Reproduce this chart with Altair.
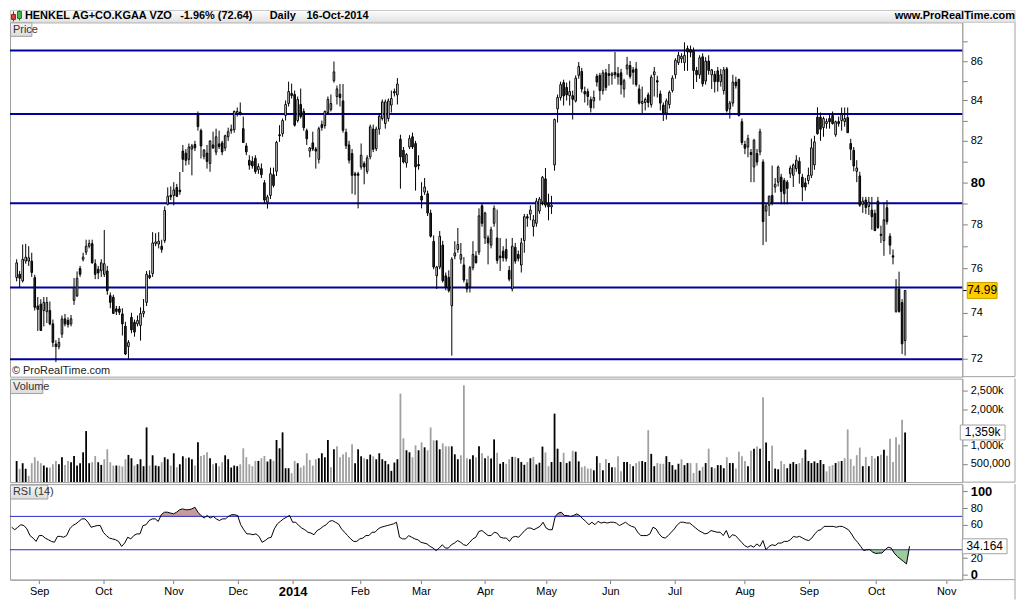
import altair as alt
import pandas as pd

# ---------------- data ----------------
opens = [
    75.57, 75.72, 75.42, 76.32, 76.32, 76.32, 75.57, 74.30, 74.38, 74.10,
    74.05, 74.10, 73.51, 72.63, 72.52, 73.06, 73.73, 73.66, 73.51, 74.55,
    74.75, 75.98, 76.40, 76.73, 77.00, 77.12, 76.20, 75.95, 75.88, 75.72,
    75.87, 74.76, 74.69, 74.17, 74.17, 73.95, 73.41, 72.52, 73.80, 73.58,
    73.51, 73.44, 73.97, 74.46, 75.67, 75.75, 77.12, 77.10, 77.00, 77.26,
    78.95, 79.38, 79.37, 79.75, 79.62, 81.50, 81.40, 81.10, 81.60, 81.82,
    83.30, 82.50, 81.25, 81.40, 80.90, 81.80, 81.45, 81.85, 81.90, 81.65,
    82.20, 82.50, 82.55, 83.35, 83.42, 82.60, 81.75, 81.05, 81.00, 81.15,
    80.60, 80.65, 79.97, 79.05, 79.37, 80.36, 80.52, 82.30, 82.35, 83.25,
    83.85, 84.35, 84.30, 83.00, 83.80, 83.45, 82.50, 81.50, 81.90, 81.60,
    81.10, 82.80, 82.75, 83.40, 83.55, 85.00, 84.20, 84.32, 83.98, 82.42,
    81.80, 81.38, 80.40, 80.40, 80.73, 80.89, 80.52, 81.22, 82.58, 81.62,
    82.58, 83.10, 82.85, 83.10, 83.77, 84.45, 84.28, 82.08, 81.54, 80.92,
    81.70, 82.20, 81.87, 80.85, 79.34, 79.53, 79.45, 78.54, 77.22, 75.65,
    76.05, 77.05, 75.65, 75.58, 74.31, 76.55, 76.85, 76.40, 76.14, 75.32,
    75.17, 76.02, 76.55, 76.73, 78.88, 77.38, 77.38, 77.05, 78.06, 77.38,
    76.55, 76.77, 76.85, 75.90, 75.06, 76.95, 76.62, 76.14, 77.26, 78.37,
    78.49, 77.91, 78.06, 78.63, 79.07, 80.16, 79.00, 78.83, 80.83, 83.58,
    84.15, 84.90, 84.66, 84.24, 84.24, 83.98, 85.27, 85.47, 84.45, 84.45,
    84.04, 83.98, 85.23, 85.27, 84.50, 85.40, 85.35, 85.27, 85.42, 85.35,
    85.40, 84.58, 85.60, 85.77, 85.55, 85.60, 84.58, 83.85, 83.90, 84.28,
    83.80, 85.30, 85.00, 84.33, 83.77, 83.37, 83.80, 84.50, 85.30, 85.92,
    86.12, 85.92, 86.65, 86.60, 86.55, 85.52, 85.30, 86.22, 84.98, 86.00,
    85.30, 85.32, 85.50, 84.95, 84.50, 85.60, 83.58, 83.87, 84.93, 85.06,
    82.94, 81.82, 81.70, 81.43, 80.73, 81.38, 81.46, 80.97, 78.63, 78.91,
    79.37, 79.77, 80.00, 80.24, 80.08, 80.00, 80.41, 80.33, 80.65, 81.00,
    80.24, 79.97, 80.08, 80.33, 80.83, 83.17, 83.17, 82.65, 82.85, 83.10,
    83.25, 82.30, 82.95, 83.00, 82.95, 83.15, 81.87, 81.54, 80.52, 80.30,
    78.95, 79.15, 78.85, 78.68, 78.52, 79.10, 77.55, 77.26, 78.79, 77.46,
    76.56, 74.06, 75.06, 74.45, 72.78,
]
highs = [
    76.40, 75.87, 77.08, 77.11, 77.00, 76.70, 75.70, 74.70, 74.60, 74.70,
    74.70, 74.50, 73.70, 72.80, 72.90, 73.88, 73.95, 73.80, 73.90, 75.55,
    75.85, 76.10, 76.70, 77.30, 77.30, 77.30, 76.40, 76.10, 76.40, 77.75,
    76.10, 74.90, 74.80, 74.30, 74.30, 74.20, 73.60, 72.80, 74.00, 73.70,
    73.88, 74.24, 74.61, 75.87, 75.90, 77.65, 77.60, 77.65, 77.30, 78.85,
    79.75, 79.80, 80.00, 79.92, 80.49, 81.80, 81.60, 81.87, 81.85, 82.00,
    83.45, 82.60, 81.60, 81.80, 82.00, 82.45, 82.60, 82.50, 82.00, 82.30,
    82.65, 82.80, 83.50, 83.65, 83.90, 83.20, 81.90, 81.30, 81.25, 81.30,
    80.90, 80.90, 80.10, 79.40, 80.70, 80.70, 82.00, 82.77, 83.10, 84.00,
    84.95, 84.85, 84.50, 84.20, 84.60, 83.60, 82.60, 81.70, 82.45, 81.70,
    82.70, 83.00, 83.50, 84.20, 84.30, 85.98, 84.75, 84.83, 84.83, 82.60,
    82.00, 81.60, 80.50, 80.50, 81.87, 81.00, 81.30, 82.80, 82.80, 82.70,
    83.35, 84.05, 84.05, 84.10, 84.50, 84.60, 85.13, 82.30, 81.70, 81.40,
    82.28, 82.40, 82.00, 81.30, 80.00, 80.20, 79.60, 78.70, 77.50, 76.10,
    77.70, 77.25, 75.80, 75.90, 76.50, 77.23, 77.84, 77.15, 76.50, 75.50,
    76.10, 77.23, 76.77, 78.76, 78.99, 78.60, 77.50, 77.90, 78.90, 78.70,
    77.38, 77.00, 77.35, 76.10, 77.38, 77.15, 76.80, 77.38, 78.50, 78.50,
    78.90, 78.45, 79.25, 79.30, 80.30, 80.68, 79.45, 79.35, 83.10, 84.30,
    84.95, 85.05, 84.90, 85.00, 84.50, 85.27, 85.95, 85.65, 84.70, 84.60,
    84.20, 84.50, 85.35, 85.40, 85.55, 85.60, 85.85, 85.45, 86.47, 85.70,
    85.60, 85.10, 86.22, 86.00, 85.70, 85.95, 84.80, 84.70, 84.15, 84.40,
    85.30, 85.70, 85.25, 84.50, 83.90, 84.10, 84.50, 85.27, 86.15, 86.47,
    86.40, 86.97, 86.80, 86.80, 86.70, 85.70, 86.30, 86.40, 86.20, 86.30,
    85.60, 85.50, 85.70, 85.60, 85.70, 85.70, 83.98, 85.30, 85.20, 85.10,
    83.10, 82.00, 82.30, 81.60, 82.10, 81.60, 82.60, 81.10, 79.00, 79.35,
    80.80, 80.20, 80.80, 80.40, 80.20, 80.10, 80.80, 80.90, 81.30, 81.20,
    80.40, 80.20, 80.70, 82.11, 82.25, 83.66, 83.40, 83.20, 83.10, 83.30,
    83.45, 83.00, 83.20, 83.65, 83.65, 83.65, 82.10, 81.70, 81.06, 80.50,
    79.30, 79.30, 79.30, 79.30, 78.70, 79.30, 77.95, 79.05, 79.15, 77.60,
    76.85, 75.50, 75.84, 74.60, 74.99,
]
lows = [
    75.40, 75.12, 75.35, 76.20, 76.10, 75.60, 74.10, 73.20, 73.20, 73.40,
    73.55, 73.45, 72.50, 71.85, 72.40, 72.90, 73.40, 73.35, 73.40, 74.35,
    74.70, 75.60, 76.30, 76.60, 76.90, 76.20, 75.50, 75.50, 75.60, 75.60,
    74.80, 74.20, 73.95, 73.90, 73.90, 73.00, 72.15, 72.00, 73.10, 72.95,
    73.40, 72.78, 73.80, 74.30, 75.50, 75.60, 77.00, 76.90, 76.70, 77.15,
    78.90, 79.15, 78.90, 79.30, 79.40, 80.49, 80.80, 80.84, 80.33, 81.50,
    82.50, 81.14, 81.10, 80.65, 80.50, 81.60, 81.30, 81.60, 81.30, 81.50,
    82.00, 82.35, 82.40, 83.20, 83.25, 81.90, 81.30, 80.60, 80.65, 80.40,
    80.40, 80.20, 79.00, 78.75, 79.20, 79.75, 80.30, 81.95, 82.20, 83.00,
    83.70, 84.10, 82.70, 82.90, 83.10, 82.50, 81.80, 81.20, 81.50, 80.65,
    80.90, 82.50, 82.60, 83.30, 83.45, 84.90, 83.80, 83.70, 82.40, 81.60,
    80.90, 79.45, 79.40, 78.76, 80.60, 79.90, 80.40, 81.10, 81.45, 81.50,
    82.30, 83.00, 82.60, 82.95, 83.40, 84.20, 83.80, 79.69, 80.90, 80.70,
    81.60, 81.60, 79.60, 80.60, 78.76, 79.40, 78.40, 77.40, 75.95, 75.06,
    75.95, 75.35, 75.00, 74.90, 72.13, 76.40, 76.70, 76.20, 75.35, 74.90,
    74.90, 75.90, 76.20, 76.60, 77.90, 77.10, 76.17, 76.90, 77.90, 76.20,
    75.87, 76.30, 76.30, 75.40, 74.95, 76.20, 76.30, 75.80, 76.70, 77.90,
    78.20, 77.45, 77.90, 78.50, 78.90, 78.80, 78.20, 78.50, 80.55, 82.90,
    84.00, 83.75, 84.00, 83.75, 83.05, 83.90, 85.10, 84.40, 83.90, 83.75,
    83.40, 83.60, 84.70, 84.00, 84.30, 84.50, 84.75, 84.80, 85.10, 84.80,
    84.30, 84.15, 85.30, 85.10, 84.80, 84.70, 83.80, 83.30, 83.50, 83.65,
    83.65, 84.20, 84.15, 83.50, 82.98, 83.05, 83.60, 84.40, 85.10, 85.80,
    85.90, 85.50, 85.50, 86.20, 84.58, 84.93, 85.10, 84.70, 84.80, 85.30,
    84.58, 84.40, 84.45, 84.70, 84.30, 83.40, 83.10, 83.70, 84.60, 83.20,
    81.80, 81.35, 81.20, 80.00, 80.00, 80.80, 81.30, 77.05, 77.20, 78.40,
    78.90, 79.50, 79.80, 78.95, 78.95, 78.95, 80.20, 79.77, 80.50, 79.93,
    79.10, 79.60, 79.90, 80.20, 80.60, 82.30, 82.00, 82.20, 82.60, 82.60,
    82.80, 82.20, 82.70, 82.50, 82.70, 82.40, 81.06, 80.52, 80.00, 78.83,
    78.55, 78.50, 78.45, 77.76, 77.70, 77.80, 77.15, 76.56, 78.00, 76.62,
    76.17, 74.00, 74.00, 72.20, 72.13,
]
closes = [
    76.24, 75.54, 76.40, 76.50, 76.47, 75.80, 74.24, 74.15, 73.22, 74.46,
    74.46, 73.51, 72.70, 72.52, 72.70, 73.73, 73.51, 73.48, 73.73, 75.12,
    75.54, 75.72, 76.50, 77.00, 77.12, 76.24, 75.72, 75.78, 76.24, 76.20,
    74.98, 74.46, 73.97, 74.06, 74.02, 73.51, 72.20, 72.70, 73.25, 73.15,
    73.66, 73.97, 74.07, 75.72, 75.57, 77.15, 77.20, 77.23, 76.85, 78.66,
    79.33, 79.30, 79.63, 79.33, 79.55, 81.10, 81.05, 81.70, 81.75, 81.66,
    82.70, 81.75, 81.55, 81.00, 82.00, 81.66, 82.20, 81.72, 81.46, 82.25,
    82.45, 82.57, 83.45, 83.45, 83.30, 81.92, 81.46, 80.82, 80.78, 80.51,
    80.75, 80.36, 79.15, 79.30, 80.41, 79.84, 81.92, 82.25, 83.00, 83.80,
    84.45, 84.25, 82.77, 84.05, 83.20, 82.65, 82.10, 81.65, 81.60, 81.50,
    82.60, 82.65, 83.45, 84.05, 83.85, 85.45, 84.58, 84.15, 82.52, 81.76,
    81.06, 80.33, 80.33, 80.33, 81.30, 80.73, 81.17, 82.69, 81.59, 82.58,
    83.22, 83.93, 83.93, 83.98, 84.10, 84.38, 84.83, 81.22, 80.97, 81.33,
    82.11, 81.70, 80.73, 80.78, 79.15, 79.77, 78.54, 77.46, 76.05, 76.05,
    77.46, 75.43, 75.13, 74.98, 76.40, 76.69, 77.08, 76.62, 75.46, 75.06,
    76.02, 76.62, 76.25, 78.41, 78.06, 78.54, 77.15, 77.76, 78.76, 76.35,
    76.47, 76.47, 76.44, 75.50, 77.00, 76.32, 76.44, 77.15, 78.37, 78.30,
    78.68, 78.22, 79.10, 79.20, 80.24, 78.91, 78.83, 78.91, 83.05, 84.15,
    84.80, 84.23, 84.28, 84.45, 84.06, 85.13, 85.72, 84.58, 84.33, 84.20,
    83.64, 84.15, 84.93, 84.50, 85.40, 84.66, 85.27, 85.35, 85.30, 85.20,
    84.80, 85.00, 85.80, 85.22, 85.43, 84.80, 83.87, 83.95, 84.05, 83.90,
    85.18, 85.45, 84.93, 83.87, 83.37, 83.98, 84.41, 85.13, 86.04, 86.30,
    86.25, 86.30, 86.47, 86.45, 85.52, 85.30, 86.17, 84.84, 86.00, 85.52,
    85.55, 84.95, 84.95, 85.30, 85.55, 83.50, 83.87, 84.93, 84.75, 83.25,
    81.92, 81.64, 82.11, 81.33, 82.03, 80.97, 82.45, 78.14, 78.88, 79.34,
    79.03, 79.90, 80.73, 79.56, 79.45, 79.70, 80.68, 80.83, 81.06, 80.41,
    79.77, 79.77, 80.33, 81.66, 81.95, 82.35, 82.57, 83.10, 82.95, 82.94,
    82.85, 82.94, 82.85, 83.30, 83.10, 82.40, 81.59, 80.78, 80.68, 78.91,
    79.10, 78.80, 79.05, 78.37, 77.72, 77.87, 77.50, 78.22, 78.14, 77.05,
    76.50, 75.06, 74.06, 72.64, 74.99,
]
volumes_k = [
    581, 363, 518, 363, 173, 518, 681, 581, 518, 454,
    400, 400, 490, 581, 490, 681, 472, 581, 545, 717,
    454, 518, 817, 1398, 518, 545, 717, 545, 472, 627,
    899, 545, 454, 454, 454, 427, 627, 745, 654, 454,
    490, 627, 436, 1498, 454, 735, 454, 436, 545, 681,
    627, 454, 790, 409, 490, 708, 654, 672, 627, 454,
    1090, 717, 745, 817, 654, 490, 518, 436, 545, 735,
    627, 400, 454, 436, 490, 926, 681, 490, 436, 581,
    581, 654, 717, 563, 627, 581, 1153, 926, 1362, 381,
    381, 245, 581, 518, 400, 454, 790, 608, 454, 627,
    654, 790, 681, 1153, 409, 899, 981, 681, 763, 817,
    681, 1035, 518, 899, 708, 654, 627, 754, 708, 627,
    790, 627, 581, 490, 309, 536, 627, 2424, 1199, 872,
    817, 681, 1008, 872, 1090, 953, 872, 1498, 1144, 1144,
    899, 1062, 981, 981, 981, 763, 627, 735, 2651, 654,
    627, 735, 681, 981, 790, 653, 719, 644, 1170, 804,
    503, 550, 503, 625, 691, 691, 653, 550, 475, 550,
    653, 691, 484, 531, 973, 813, 437, 550, 1875, 916,
    550, 804, 522, 569, 860, 832, 569, 409, 437, 371,
    371, 324, 710, 522, 324, 634, 522, 409, 409, 710,
    296, 550, 550, 493, 437, 522, 569, 578, 550, 1424,
    775, 437, 522, 503, 503, 710, 550, 465, 343, 503,
    625, 465, 522, 522, 249, 522, 315, 418, 522, 916,
    409, 381, 465, 465, 381, 681, 522, 522, 371, 832,
    710, 578, 437, 860, 916, 973, 916, 2326, 1086, 578,
    1001, 371, 352, 578, 493, 381, 503, 550, 493, 522,
    663, 888, 578, 522, 569, 522, 606, 493, 296, 437,
    465, 522, 569, 578, 653, 1443, 634, 446, 738, 945,
    437, 691, 437, 719, 653, 710, 747, 888, 719, 1189,
    550, 1227, 1029, 1706, 1359,
]
rsi14 = [
    57, 54, 57, 60, 59, 55, 47, 44, 40, 47,
    47, 44, 42, 40, 39, 46, 46, 45, 47, 55,
    59, 61, 64, 67, 67, 63, 57, 58, 59, 59,
    51, 47, 44, 43, 42, 40, 34, 38, 45, 43,
    47, 49, 49, 59, 60, 65, 67, 67, 64, 72,
    75, 75, 74, 73, 75, 78, 79, 78, 78, 79,
    81, 75, 71, 68, 71, 68, 70, 67, 65, 67,
    67, 70, 72, 72, 71, 60, 54, 49, 49, 48,
    49, 46, 39, 41, 44, 45, 55, 61, 64, 67,
    69, 71, 63, 63, 59, 56, 54, 51, 50, 48,
    53, 55, 58, 60, 64, 65, 63, 61, 55, 51,
    47, 43, 40, 40, 43, 44, 47, 47, 51, 51,
    55, 57, 58, 59, 60, 61, 63, 45, 43, 43,
    47, 45, 43, 42, 39, 38, 37, 34, 32, 29,
    32, 36, 32, 32, 36, 38, 41, 39, 36, 35,
    39, 43, 45, 52, 53, 50, 47, 47, 51, 50,
    45, 44, 44, 40, 45, 46, 45, 49, 53, 56,
    56, 54, 56, 58, 63, 56, 54, 54, 70, 74,
    75, 71, 71, 70, 71, 73, 71, 67, 64, 60,
    63, 60, 64, 62, 63, 62, 63, 63, 62, 59,
    61, 63, 60, 58, 57, 51, 47, 47, 47, 49,
    57, 55, 49, 45, 44, 47, 51, 55, 60, 63,
    63, 62, 62, 59, 56, 53, 51, 49, 50, 53,
    52, 51, 51, 47, 53, 44, 48, 47, 43, 39,
    35, 33, 35, 33, 37, 34, 41, 30, 34, 36,
    35, 38, 38, 40, 40, 42, 46, 45, 46, 44,
    42, 41, 44, 49, 53, 54, 58, 58, 58, 58,
    57, 58, 58, 56, 54, 49, 43, 39, 34, 29,
    30, 30, 27, 25.5, 26, 26, 30, 33, 32, 26,
    22, 19, 16, 13, 34.164,
]
month_ticks = [9, 30, 53, 74, 92, 114, 134, 155, 175, 196, 217, 240, 261, 283, 306]
month_labels = ["Sep", "Oct", "Nov", "Dec", "2014", "Feb", "Mar", "Apr", "May",
                "Jun", "Jul", "Aug", "Sep", "Oct", "Nov"]
support_levels = [86.55, 83.33, 79.00, 75.12, 71.97]
price_ticks = list(range(72, 88))
volume_ticks = [500000, 1000000, 1500000, 2000000, 2500000]
rsi_ticks = [0, 20, 40, 60, 80, 100]
rsi_bands = [70, 30]
header_texts = ["HENKEL AG+CO.KGAA VZO", "-1.96% (72.64)", "Daily", "16-Oct-2014"]
site_text = "www.ProRealTime.com"
copyright_text = "\u00a9 ProRealTime.com"
panel_titles = ["Price", "Volume", "RSI (14)"]

# ---------------- table ----------------
n = len(closes)
df = pd.DataFrame({
    "i": list(range(n)), "o": opens, "h": highs, "l": lows, "c": closes,
    "v": [v * 1000 for v in volumes_k], "rsi": rsi14,
})
df["vup"] = [True] + [closes[k] >= closes[k - 1] for k in range(1, n)]

W = 957
HP, HV, HR = 356, 104, 96
FONT = "Liberation Sans"
GREY = "#a0a0a0"
one = pd.DataFrame({"k": [0]})

xs = alt.Scale(domain=[-0.55, 311.27], nice=False, zero=False)
ps = alt.Scale(type="log", domain=[71.23, 88.01], nice=False, zero=False)
vs = alt.Scale(domain=[0, 2834000], nice=False, zero=False)
rs = alt.Scale(domain=[-5.85, 108.7], nice=False, zero=False)


def cond(test, a, b):
    return {"condition": {"test": test, "value": a}, "value": b}


# labels hidden behind the last-value boxes in the reference are left blank
price_axis = alt.Axis(
    orient="right", values=price_ticks, title=None, grid=False,
    labelExpr="datum.value % 2 == 0 ? datum.label : ''",
    labelFontSize=cond("datum.value == 80", 13, 11),
    labelFontWeight=cond("datum.value == 80", "bold", "normal"),
    labelOverlap=False, tickSize=5, tickColor="#808080", domainColor=GREY,
    labelPadding=3, labelColor="black")
vol_axis = alt.Axis(
    orient="right", values=volume_ticks, title=None, grid=False,
    labelExpr=("datum.value == 1500000 ? '' : datum.value == 500000 ? '500,000' : "
               "format(datum.value / 1000, ',') + 'k'"),
    labelFontSize=11, labelOverlap=False, tickSize=5, tickColor="#808080",
    domainColor=GREY, labelPadding=3, labelColor="black")
rsi_axis = alt.Axis(
    orient="right", values=rsi_ticks, title=None, grid=False,
    labelExpr="datum.value == 40 ? '' : datum.label",
    labelFontSize=cond("datum.value == 0 || datum.value == 100", 13, 11),
    labelFontWeight=cond("datum.value == 0 || datum.value == 100", "bold", "normal"),
    labelOverlap=False, tickSize=5, tickColor="#808080", domainColor=GREY,
    labelPadding=3, labelColor="black")
labels_js = "[" + ",".join("'%s'" % m for m in month_labels) + "]"
ticks_js = "[" + ",".join(str(t) for t in month_ticks) + "]"
bold_tick = month_ticks[month_labels.index("2014")]
x_axis = alt.Axis(
    values=month_ticks, title=None, grid=False,
    labelExpr=f"{labels_js}[indexof({ticks_js}, datum.value)]",
    labelFontSize=cond(f"datum.value == {bold_tick}", 13, 11),
    labelFontWeight=cond(f"datum.value == {bold_tick}", "bold", "normal"),
    labelFlush=False, labelOverlap=False, tickSize=4, tickColor="#808080",
    domainColor=GREY, labelPadding=2, labelColor="black")

X_none = alt.X("i:Q", scale=xs, axis=None)
X_rsi = alt.X("i:Q", scale=xs, axis=x_axis)


def box(x1, x2, y1, y2, fill, stroke=GREY):
    return alt.Chart(one).mark_rect(fill=fill, stroke=stroke, strokeWidth=1).encode(
        x=alt.value(x1), x2=alt.value(x2), y=alt.value(y1), y2=alt.value(y2))


def label(txt, x, y, size=11, weight="normal", align="left", color="black"):
    return alt.Chart(pd.DataFrame({"t": [txt]})).mark_text(
        align=align, baseline="middle", fontSize=size, fontWeight=weight, color=color
    ).encode(x=alt.value(x), y=alt.value(y), text="t:N")


def vline(x, y1, y2):
    return alt.Chart(one).mark_rule(color=GREY, strokeWidth=1).encode(
        x=alt.value(x), y=alt.value(y1), y2=alt.value(y2))


def hline(y, x1, x2):
    return alt.Chart(one).mark_rule(color=GREY, strokeWidth=1).encode(
        y=alt.value(y), x=alt.value(x1), x2=alt.value(x2))


tab_grad = alt.LinearGradient(gradient="linear", x1=0, x2=0, y1=0, y2=1, stops=[
    alt.GradientStop(offset=0, color="#f4f4f4"), alt.GradientStop(offset=1, color="#dcdcdc")])
head_grad = alt.LinearGradient(gradient="linear", x1=0, x2=0, y1=0, y2=1, stops=[
    alt.GradientStop(offset=0, color="#fdfdfd"), alt.GradientStop(offset=1, color="#e2e2e2")])

base = alt.Chart(df)

# ---------------- price panel ----------------
header = box(0.5, 1010, -12, 0, head_grad, stroke="#c8c8c8")
icon = alt.layer(
    alt.Chart(one).mark_rule(color="#802020").encode(x=alt.value(3.5), y=alt.value(-11), y2=alt.value(-1)),
    box(1.5, 5.5, -8, -3, "#e04040", "#902020"),
    alt.Chart(one).mark_rule(color="#206020").encode(x=alt.value(9.5), y=alt.value(-12), y2=alt.value(-2)),
    box(7.5, 11.5, -11, -4, "#40c040", "#207020"),
)
head_txt = alt.layer(
    label(header_texts[0], 15, -6, weight="bold"),
    label(header_texts[1], 171, -6, weight="bold"),
    label(header_texts[2], 261, -6, weight="bold"),
    label(header_texts[3], 298, -6, weight="bold"),
    label(site_text, 1010, -6, weight="bold", align="right"),
)
levels = alt.Chart(pd.DataFrame({"p": support_levels})).mark_rule(
    color="#00009c", strokeWidth=2).encode(y=alt.Y("p:Q", scale=ps, axis=price_axis))
wicks = base.mark_rule(color="black", strokeWidth=1).encode(
    x=X_none, y=alt.Y("l:Q", scale=ps, axis=price_axis), y2="h:Q")
bodies = base.mark_bar(size=1.6, stroke="black", strokeWidth=1).encode(
    x=X_none, y=alt.Y("o:Q", scale=ps, axis=price_axis), y2="c:Q",
    fill=alt.condition("datum.c >= datum.o", alt.value("white"), alt.value("#2b2b2b")))
lastp = alt.Chart(pd.DataFrame({"c": [closes[-1]]}))
last_box = lastp.mark_rect(fill="#ffcc00", stroke="#c8a000", strokeWidth=1,
                           yOffset=-8, y2Offset=8).encode(
    x=alt.value(962), x2=alt.value(992), y=alt.Y("c:Q", scale=ps, axis=price_axis), y2="c:Q")
last_dash = lastp.mark_rule(color="black").encode(
    x=alt.value(958), x2=alt.value(961), y=alt.Y("c:Q", scale=ps, axis=price_axis))
last_txt = lastp.mark_text(fontSize=12, align="center", baseline="middle").encode(
    x=alt.value(977), y=alt.Y("c:Q", scale=ps, axis=price_axis), text=alt.Text("c:Q", format=".2f"))

price = alt.layer(
    header, icon, head_txt, levels, wicks, bodies,
    box(0.5, 22, 0.5, 14, tab_grad), label(panel_titles[0], 3, 7.5, color="#333333"),
    label(copyright_text, 2, 350, color="#222222"),
    last_box, last_dash, last_txt,
    vline(1010, 0, HP), hline(HP, W, 1010),
).properties(width=W, height=HP)

# ---------------- volume panel ----------------
vbars = base.mark_bar(size=1.8).encode(
    x=X_none, y=alt.Y("v:Q", scale=vs, axis=vol_axis),
    color=alt.condition("datum.vup", alt.value("black"), alt.value(GREY)))
lastv = alt.Chart(pd.DataFrame({"v": [volumes_k[-1] * 1000],
                                "t": [f"{volumes_k[-1]:,}k"]}))
v_box = lastv.mark_rect(fill="white", stroke=GREY, strokeWidth=1, yOffset=-7.5, y2Offset=7.5).encode(
    x=alt.value(955), x2=alt.value(1000), y=alt.Y("v:Q", scale=vs, axis=vol_axis), y2="v:Q")
v_txt = lastv.mark_text(fontSize=12, align="center", baseline="middle").encode(
    x=alt.value(977.5), y=alt.Y("v:Q", scale=vs, axis=vol_axis), text="t:N")
volume = alt.layer(
    vbars, box(0.5, 33, 1, 15, tab_grad), label(panel_titles[1], 3, 8, color="#333333"),
    v_box, v_txt, vline(1010, 0, HV), hline(HV, W, 1010),
).properties(width=W, height=HV)

# ---------------- RSI panel ----------------
ob = base.transform_calculate(
    top=f"max(datum.rsi, {rsi_bands[0]})", bot=f"{rsi_bands[0]}"
).mark_area(color="#c89a9a", opacity=1).encode(
    x=X_rsi, y=alt.Y("top:Q", scale=rs, axis=rsi_axis), y2="bot:Q")
osd = base.transform_calculate(
    top=f"min(datum.rsi, {rsi_bands[1]})", bot=f"{rsi_bands[1]}"
).mark_area(color="#9ccc9c", opacity=1).encode(
    x=X_rsi, y=alt.Y("top:Q", scale=rs, axis=rsi_axis), y2="bot:Q")
bands = alt.Chart(pd.DataFrame({"b": rsi_bands})).mark_rule(
    color="#2828c8", strokeWidth=1).encode(y=alt.Y("b:Q", scale=rs, axis=rsi_axis))
rline = base.mark_line(color="black", strokeWidth=1).encode(
    x=X_rsi, y=alt.Y("rsi:Q", scale=rs, axis=rsi_axis))
lastr = alt.Chart(pd.DataFrame({"r": [rsi14[-1]]}))
r_box = lastr.mark_rect(fill="white", stroke=GREY, strokeWidth=1, yOffset=-7.5, y2Offset=7.5).encode(
    x=alt.value(957), x2=alt.value(1002), y=alt.Y("r:Q", scale=rs, axis=rsi_axis), y2="r:Q")
r_txt = lastr.mark_text(fontSize=12, align="center", baseline="middle").encode(
    x=alt.value(979.5), y=alt.Y("r:Q", scale=rs, axis=rsi_axis), text=alt.Text("r:Q", format=".3f"))
rsi = alt.layer(
    ob, osd, bands, rline, box(0.5, 38, 1, 15, tab_grad),
    label(panel_titles[2], 3, 8, color="#333333"),
    r_box, r_txt, vline(1010, 0, HR + 20), hline(HR, W, 1010),
).properties(width=W, height=HR)

chart = alt.vconcat(price, volume, rsi, spacing=2, bounds="flush").properties(
    padding=0, background="white"
).configure_view(stroke=GREY).configure_axis(labelFont=FONT).configure_text(font=FONT)

chart.save("out.html", embed_options={"renderer": "svg", "actions": False})
